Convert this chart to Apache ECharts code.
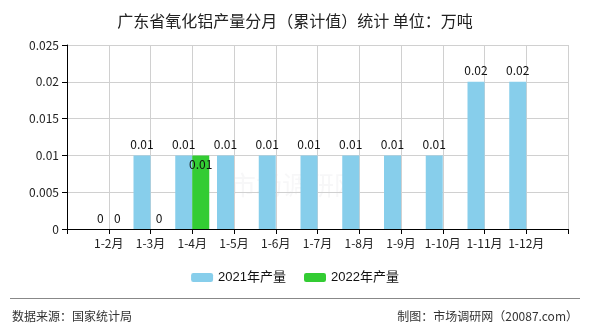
<!DOCTYPE html>
<html><head><meta charset="utf-8">
<script src="https://cdn.jsdelivr.net/npm/echarts@6/dist/echarts.min.js"></script>
<style>html,body{margin:0;padding:0;background:#fff}#c{width:590px;height:330px}</style>
</head><body><div id="c"></div>
<script>
const categories = ["1-2月","1-3月","1-4月","1-5月","1-6月","1-7月","1-8月","1-9月","1-10月","1-11月","1-12月"];
const values2021 = [0,0.01,0.01,0.01,0.01,0.01,0.01,0.01,0.01,0.02,0.02];
const values2022 = [0,0,0.01,null,null,null,null,null,null,null,null];
const seriesNames = ["2021年产量","2022年产量"];
const yTicks = [0,0.005,0.01,0.015,0.02,0.025];

const FONT = "SimSun, 'Noto Sans CJK SC', sans-serif";
const cats = [""].concat(categories, [""]);
const pad = a => [null].concat(a, [null]);
const chart = echarts.init(document.getElementById('c'));
chart.setOption({
  animation:false,
  textStyle:{fontFamily:FONT},
  title:{text:"广东省氧化铝产量分月（累计值）统计 单位：万吨",left:'center',top:8,
    textStyle:{fontSize:16,fontWeight:'normal',color:'#222',fontFamily:FONT}},
  legend:{bottom:41,left:'center',itemWidth:22,itemHeight:9,itemGap:18,
    textStyle:{fontSize:13,color:'#111',fontFamily:"'Liberation Sans','Noto Sans CJK SC',sans-serif"},
    data:seriesNames},
  grid:{left:67,right:22,top:45,bottom:101,containLabel:false},
  xAxis:{type:'category',data:cats,boundaryGap:false,
    axisLine:{lineStyle:{color:'#000'}},
    axisTick:{show:true,length:5,lineStyle:{color:'#000'}},
    axisLabel:{color:'#222',fontSize:12,interval:0,fontFamily:FONT,margin:8},
    splitLine:{show:true,lineStyle:{color:'#d0d0d0'}}},
  yAxis:{type:'value',min:yTicks[0],max:yTicks[yTicks.length-1],interval:0.005,
    axisLine:{show:true,lineStyle:{color:'#000'}},
    axisTick:{show:true,length:5,lineStyle:{color:'#000'}},
    axisLabel:{color:'#222',fontSize:12,fontFamily:FONT},
    splitLine:{show:true,lineStyle:{color:'#d0d0d0'}}},
  graphic:[
    {type:'line',shape:{x1:10,y1:298.5,x2:580,y2:298.5},style:{stroke:'#888',lineWidth:1}},
    {type:'text',left:12,top:310,style:{text:'数据来源：国家统计局',fontSize:12,fill:'#333',fontFamily:FONT}},
    {type:'text',right:12,top:310,style:{text:'制图：市场调研网（20087.com）',fontSize:12,fill:'#333',fontFamily:FONT}},
    {type:'text',left:'center',top:172,style:{text:'市场调研网',fontSize:26,fill:'rgba(200,200,210,0.15)',fontFamily:FONT}}
  ],
  series:[
    {name:seriesNames[0],type:'bar',data:pad(values2021),barWidth:17,barGap:'0%',
     itemStyle:{color:'#87CEEB'},
     label:{show:true,position:'top',color:'#111',fontSize:12,fontFamily:FONT}},
    {name:seriesNames[1],type:'bar',data:pad(values2022),barWidth:17,barGap:'0%',
     itemStyle:{color:'#33CC33'},
     label:{show:true,position:'top',color:'#111',fontSize:12,fontFamily:FONT},
     labelLayout:function(p){
       const i = p.dataIndex;
       const a = pad(values2021)[i], b = pad(values2022)[i];
       return (a === b && b) ? {dy:20} : {};
     }}
  ]
});
</script></body></html>
